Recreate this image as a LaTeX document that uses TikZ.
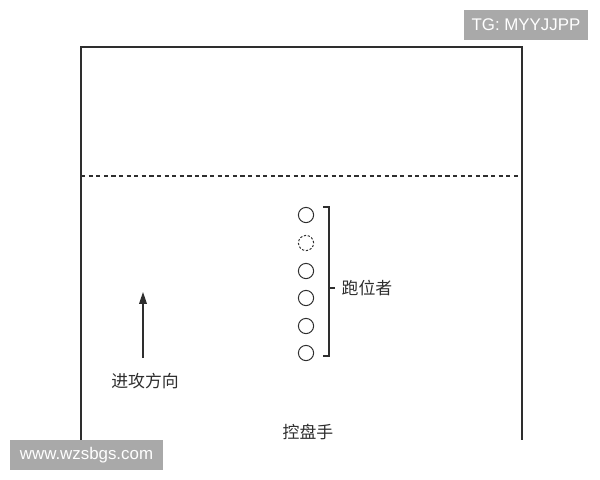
\documentclass[tikz,border=0pt]{standalone}
\usepackage{fontspec}
\setmainfont{Liberation Sans}
\newfontfamily\cjk{Noto Sans CJK SC}
\usepackage{tikz}
\usetikzlibrary{calc,arrows.meta}
\definecolor{ink}{HTML}{2E2E2E}
\definecolor{badge}{HTML}{A9A9A9}
\tikzset{
  court/.style={draw=ink, line width=0.8pt},
  half/.style={draw=ink, line width=0.8pt, dash pattern=on 3pt off 2.4pt},
  player/.style={circle, draw=ink, line width=0.7pt, minimum size=0.38cm, inner sep=0pt},
  ghost/.style={player, dash pattern=on 1.6pt off 1.2pt},
  brace/.style={draw=ink, line width=0.8pt},
  lab/.style={text=ink, font=\cjk\fontsize{12}{14}\selectfont, inner sep=1pt},
  wmark/.style={fill=badge, text=white, font=\fontsize{12}{14}\selectfont, inner sep=0pt},
}

\begin{document}
\begin{tikzpicture}[x=0.025cm, y=-0.025cm]
  \useasboundingbox (0,0) rectangle (600,480);

  % court outline, open at the bottom
  \coordinate (BL) at (81,440);
  \coordinate (TL) at (81,47);
  \coordinate (TR) at (522,47);
  \coordinate (BR) at (522,440);
  \draw[court] (BL)--(TL)--(TR)--(BR);

  \coordinate (HL) at (81,176);
  \coordinate (HR) at (522,176);
  \draw[half] (HL)--(HR);

  % runners
  \node[player] (p1) at (306,215) {};
  \node[ghost]  (p2) at (306,243) {};
  \node[player] (p3) at (306,271) {};
  \node[player] (p4) at (306,298) {};
  \node[player] (p5) at (306,326) {};
  \node[player] (p6) at (306,353) {};

  \coordinate (b1) at (323,207);
  \coordinate (b2) at (329,207);
  \coordinate (b3) at (329,356);
  \coordinate (b4) at (323,356);
  \coordinate (bm) at (329,288);
  \coordinate (bt) at (335,288);
  \draw[brace] (b1)--(b2)--(b3)--(b4);
  \draw[brace] (bm)--(bt);
  \node[lab, anchor=west] (run) at (340,288) {跑位者};

  % direction
  \coordinate (a0) at (143,358);
  \coordinate (a1) at (143,292);
  \draw[court, -{Triangle[length=8.5pt, width=5.5pt]}] (a0)--(a1);
  \node[lab] (dir) at (145,381) {进攻方向};

  \node[lab] (pg) at (308,432) {控盘手};

  % watermarks
  \node[wmark, minimum width=3.08cm, minimum height=0.75cm] (tg) at (526,25) {TG: MYYJJPP};
  \node[wmark, minimum width=3.83cm, minimum height=0.75cm] (www) at (86.5,455) {www.wzsbgs.com};
\end{tikzpicture}
\end{document}
